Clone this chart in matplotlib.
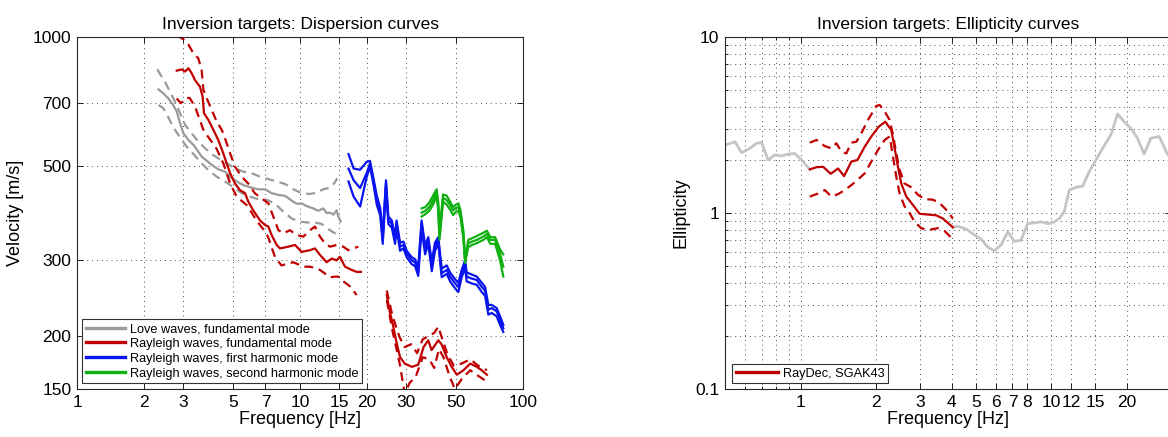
import numpy as np
import matplotlib
matplotlib.use("Agg")
import matplotlib.pyplot as plt
from matplotlib.ticker import FixedLocator, FixedFormatter, NullLocator, NullFormatter, LogLocator
from matplotlib.lines import Line2D

plt.rcParams["font.family"] = ["Liberation Sans", "DejaVu Sans"]

# ---- dispersion targets ----
# Love, fundamental mode (mean, upper, lower)
love_f = [2.32, 2.44, 2.57, 2.70, 2.80, 2.90, 3.00, 3.16, 3.33, 3.50, 3.62, 3.82, 4.02, 4.30, 4.61,
          4.86, 5.20, 5.57, 5.97, 6.51, 6.97, 7.46, 8.00, 8.56, 9.18, 9.66, 10.17, 10.71, 11.47, 12.08,
          12.72, 13.17, 13.63, 14.11, 14.60, 14.85, 15.22]
love_v = [754, 738, 718, 693, 669, 628, 595, 574, 559, 539, 525, 513, 502, 490, 484,
          471, 459, 450, 445, 440, 440, 431, 427, 425, 414, 407, 408, 402, 397, 392,
          397, 387, 388, 384, 393, 380, 370]
love_up_f = [2.29, 2.37, 2.48, 2.61, 2.75, 2.90, 3.05, 3.27, 3.50, 3.75, 4.02, 4.30, 4.69, 5.11, 5.57,
             6.07, 6.62, 7.21, 7.86, 8.56, 9.34, 10.17, 11.09, 11.88, 12.72, 13.63, 14.21, 14.70]
love_up_v = [840, 815, 786, 745, 706, 663, 623, 595, 569, 549, 532, 520, 506, 493, 484,
             480, 471, 465, 459, 453, 440, 431, 429, 432, 440, 444, 454, 467]
love_lo_f = [2.32, 2.44, 2.57, 2.70, 2.90, 3.10, 3.33, 3.56, 3.88, 4.23, 4.61, 5.02, 5.48, 5.97, 6.51,
             7.09, 7.73, 8.42, 9.18, 9.83, 10.71, 11.67, 12.51, 13.40, 14.36, 15.11]
love_lo_v = [693, 681, 648, 615, 582, 554, 532, 511, 488, 471, 459, 445, 431, 423, 417,
             416, 407, 390, 376, 370, 368, 368, 365, 355, 347, 340]

# Rayleigh, fundamental mode: low-frequency branch
ray0_f = [2.80, 2.95, 3.05, 3.16, 3.27, 3.38, 3.56, 3.66, 3.71, 3.88, 4.09, 4.30, 4.53, 4.69, 4.86,
          5.11, 5.38, 5.67, 5.86, 6.17, 6.62, 6.97, 7.21, 7.46, 7.86, 8.13, 8.87, 9.50, 10.17, 11.09,
          11.67, 12.29, 13.17, 13.87, 14.60, 15.11, 15.91, 17.04, 17.95, 18.76]
ray0_v = [834, 840, 830, 845, 822, 793, 765, 725, 663, 640, 606, 574, 534, 506, 480,
          454, 438, 431, 412, 393, 372, 363, 360, 344, 326, 320, 323, 326, 314, 317,
          320, 309, 297, 303, 300, 306, 290, 285, 282, 282]
ray0_up_f = [2.80, 3.02, 3.16, 3.33, 3.50, 3.62, 3.69, 3.82, 4.02, 4.23, 4.46, 4.61, 4.86, 5.11, 5.48,
             5.86, 6.27, 6.73, 7.21, 7.59, 8.00, 8.42, 9.01, 9.66, 10.35, 11.09, 11.67, 12.29, 12.93,
             13.63, 14.60, 15.64, 16.45, 17.35, 18.27]
ray0_up_v = [1010, 985, 960, 915, 891, 838, 752, 718, 675, 634, 606, 579, 534, 497, 471,
             454, 431, 419, 408, 380, 353, 347, 353, 344, 341, 353, 360, 341, 329,
             323, 326, 323, 317, 320, 323]
ray0_lo_f = [2.80, 2.92, 3.10, 3.20, 3.38, 3.69, 3.82, 4.23, 4.53, 4.69, 4.86, 5.20, 5.77, 6.07, 6.38,
             6.84, 7.20, 7.73, 8.26, 9.34, 10.35, 11.09, 11.88, 12.29, 13.63, 14.60, 15.11, 15.64,
             16.73, 17.95]
ray0_lo_v = [718, 700, 720, 720, 688, 606, 590, 547, 506, 480, 454, 423, 404, 388, 372,
             355, 340, 305, 292, 297, 290, 290, 287, 285, 274, 275, 274, 268,
             261, 249]

# Rayleigh, fundamental mode: high-frequency branch
ray0b_f = [24.5, 25.2, 26.2, 27.2, 28.1, 29.5, 31.8, 33.9, 35.8, 37.6, 38.9, 41.7, 43.1, 45.5, 47.9,
           50.5, 54.1, 58.0, 62.1, 65.2, 68.9]
ray0b_v = [249, 229, 210, 191, 178, 172, 169, 171, 188, 195, 185, 195, 191, 178, 169,
           162, 166, 172, 169, 166, 162]
ray0b_up_f = [24.5, 26.0, 28.0, 29.5, 31.5, 33.5, 35.5, 38.0, 40.0, 41.7, 43.5, 46.0, 49.0, 53.0, 58.0,
              63.0, 68.9]
ray0b_up_v = [255, 222, 198, 188, 191, 182, 196, 200, 203, 210, 196, 180, 170, 172, 176, 170, 166]
ray0b_lo_f = [24.5, 26.0, 28.0, 29.5, 31.0, 33.0, 35.5, 38.0, 40.0, 42.0, 44.0, 47.0, 49.5, 53.0, 58.0,
              63.0, 68.9]
ray0b_lo_v = [242, 205, 172, 146, 155, 160, 178, 176, 168, 186, 178, 160, 150, 158, 166, 161, 156]

# Rayleigh, first harmonic mode
ray1_f = [16.5, 17.4, 18.6, 19.9, 20.6, 21.3, 22.1, 22.9, 23.5, 24.3, 24.9, 25.8, 26.7, 27.1, 28.1,
          29.1, 30.1, 31.7, 32.8, 33.9, 35.1, 36.4, 37.6, 39.0, 40.3, 41.7, 43.2, 45.5, 47.1, 49.6,
          51.3, 53.1, 55.0, 55.9, 58.9, 62.0, 65.3, 67.6, 69.9, 72.4, 76.2, 78.9, 81.6]
ray1_v = [492, 462, 443, 480, 506, 463, 415, 390, 335, 454, 372, 366, 335, 366, 323,
          326, 311, 300, 297, 282, 366, 317, 335, 290, 323, 335, 280, 285, 275, 265,
          260, 280, 295, 275, 272, 270, 260, 255, 230, 232, 228, 218, 208]
ray1_up = [532, 492, 489, 510, 513, 470, 425, 398, 345, 462, 380, 372, 342, 372, 330,
           332, 316, 305, 302, 290, 372, 325, 340, 298, 330, 340, 287, 292, 281, 271,
           266, 285, 300, 281, 278, 275, 266, 260, 236, 236, 232, 222, 212]
ray1_lo = [459, 423, 401, 470, 497, 455, 405, 382, 328, 445, 365, 358, 328, 358, 316,
           320, 305, 294, 291, 276, 356, 310, 328, 283, 316, 328, 274, 279, 268, 258,
           253, 274, 288, 268, 265, 263, 253, 248, 224, 226, 222, 212, 204]

# Rayleigh, second harmonic mode
ray2_f = [35.1, 36.5, 38.0, 39.5, 41.0, 41.7, 42.2, 43.8, 45.5, 47.0, 48.6, 50.0, 51.3, 52.5, 54.1,
          55.0, 56.8, 59.0, 62.0, 64.0, 66.3, 68.9, 71.3, 75.0, 78.9, 81.6]
ray2_v = [388, 392, 400, 415, 432, 400, 340, 420, 415, 405, 393, 398, 400, 385, 341,
          300, 329, 332, 335, 338, 341, 346, 335, 335, 311, 290]
ray2_up = [397, 400, 410, 425, 440, 410, 350, 428, 425, 412, 400, 405, 408, 392, 350,
           300, 335, 338, 342, 345, 348, 352, 340, 340, 318, 310]
ray2_lo = [380, 385, 392, 405, 425, 392, 335, 412, 405, 395, 383, 390, 392, 378, 335,
           296, 322, 326, 329, 332, 335, 340, 328, 328, 300, 275]

# ---- ellipticity targets ----
ell_f = [1.089, 1.158, 1.231, 1.320, 1.412, 1.492, 1.595, 1.686, 1.803, 1.916, 2.049, 2.178,
         2.301, 2.373, 2.446, 2.522, 2.641, 2.807, 2.984, 3.220, 3.476, 3.695, 4.050]
ell_e = [1.77, 1.82, 1.83, 1.67, 1.79, 1.62, 1.96, 2.00, 2.38, 2.72, 3.09, 3.30,
         2.96, 2.33, 1.83, 1.47, 1.24, 1.11, 0.99, 0.98, 0.97, 0.93, 0.83]
ell_up_f = [1.089, 1.158, 1.249, 1.328, 1.390, 1.456, 1.523, 1.595, 1.670, 1.748, 1.858, 2.006,
            2.068, 2.165, 2.267, 2.337, 2.409, 2.484, 2.600, 2.764, 2.938, 3.123, 3.372, 3.584,
            3.869, 4.050]
ell_up_e = [2.51, 2.60, 2.40, 2.33, 2.49, 2.23, 2.18, 2.51, 2.54, 2.84, 3.38, 4.06,
            4.11, 3.77, 3.38, 2.78, 2.18, 1.76, 1.47, 1.40, 1.27, 1.20, 1.19, 1.14,
            1.02, 0.93]
ell_lo_f = [1.089, 1.175, 1.249, 1.328, 1.412, 1.501, 1.595, 1.696, 1.803, 1.916, 2.037, 2.165,
            2.267, 2.337, 2.409, 2.484, 2.600, 2.722, 2.850, 3.030, 3.220, 3.529, 3.752, 4.050]
ell_lo_e = [1.24, 1.29, 1.35, 1.24, 1.28, 1.35, 1.44, 1.55, 1.68, 1.96, 2.28, 2.60,
            2.72, 2.09, 1.61, 1.29, 1.09, 1.00, 0.89, 0.82, 0.80, 0.82, 0.79, 0.71]

# full-band ellipticity shown in light grey outside the target band
bg_lo_f = [0.50, 0.548, 0.582, 0.628, 0.668, 0.699, 0.743, 0.790, 0.840, 0.893, 0.949, 1.009, 1.089]
bg_lo_e = [2.43, 2.54, 2.20, 2.33, 2.49, 2.52, 2.00, 2.14, 2.11, 2.16, 2.18, 2.00, 1.77]
bg_hi_f = [4.05, 4.24, 4.58, 4.94, 5.25, 5.58, 5.93, 6.31, 6.70, 7.13, 7.57, 8.05, 9.10, 9.67,
           10.28, 10.76, 11.26, 11.79, 12.54, 13.33, 14.17, 15.06, 16.01, 17.28, 18.37, 19.52,
           20.75, 22.06, 23.44, 24.93, 26.91, 28.96, 30.0]
bg_hi_e = [0.83, 0.84, 0.81, 0.75, 0.71, 0.64, 0.61, 0.66, 0.78, 0.69, 0.70, 0.87, 0.89, 0.87,
           0.89, 0.93, 1.02, 1.35, 1.40, 1.42, 1.72, 2.00, 2.33, 2.78, 3.65, 3.30,
           3.03, 2.66, 2.16, 2.66, 2.72, 2.18, 2.05]

legend_labels = ["Love waves, fundamental mode", "Rayleigh waves, fundamental mode",
                 "Rayleigh waves, first harmonic mode", "Rayleigh waves, second harmonic mode"]

GREY = "#9a9a9a"
LIGHT = "#c4c4c4"
RED = "#c00000"
BLUE = "#0a14ee"
GREEN = "#10b010"
LW = 1.6
DASH = (0, (4, 2.6))
GRID = dict(linestyle=(0, (1, 4)), color="0.3", linewidth=0.7)

fig = plt.figure(figsize=(11.68, 4.37), dpi=100)
ax1 = fig.add_axes([77 / 1168, 48 / 437, 446 / 1168, 352 / 437])
ax2 = fig.add_axes([725 / 1168, 48 / 437, 446 / 1168, 352 / 437])

# dispersion curves
ax1.plot(love_up_f, love_up_v, color=GREY, lw=LW, ls=DASH)
ax1.plot(love_lo_f, love_lo_v, color=GREY, lw=LW, ls=DASH)
ax1.plot(love_f, love_v, color=GREY, lw=LW)
for f, v in [(ray0_up_f, ray0_up_v), (ray0_lo_f, ray0_lo_v), (ray0b_up_f, ray0b_up_v), (ray0b_lo_f, ray0b_lo_v)]:
    ax1.plot(f, v, color=RED, lw=LW, ls=DASH)
ax1.plot(ray0_f, ray0_v, color=RED, lw=LW)
ax1.plot(ray0b_f, ray0b_v, color=RED, lw=LW)
for v in (ray1_up, ray1_lo, ray1_v):
    ax1.plot(ray1_f, v, color=BLUE, lw=LW)
for v in (ray2_up, ray2_lo, ray2_v):
    ax1.plot(ray2_f, v, color=GREEN, lw=LW)

ax1.set_xscale("log")
ax1.set_yscale("log")
ax1.set_xlim(1, 100)
ax1.set_ylim(150, 1000)
xt = [1, 2, 3, 5, 7, 10, 15, 20, 30, 50, 100]
yt = [150, 200, 300, 500, 700, 1000]
ax1.xaxis.set_major_locator(FixedLocator(xt))
ax1.xaxis.set_major_formatter(FixedFormatter([str(t) for t in xt]))
ax1.yaxis.set_major_locator(FixedLocator(yt))
ax1.yaxis.set_major_formatter(FixedFormatter([str(t) for t in yt]))
ax1.xaxis.set_minor_locator(NullLocator())
ax1.yaxis.set_minor_locator(NullLocator())
ax1.grid(True, which="major", **GRID)
ax1.set_title("Inversion targets: Dispersion curves", fontsize=12.5, pad=6)
ax1.set_xlabel("Frequency [Hz]", fontsize=13, labelpad=1)
ax1.set_ylabel("Velocity [m/s]", fontsize=13, labelpad=6)

handles = [Line2D([], [], color=c, lw=2.4) for c in (GREY, RED, BLUE, GREEN)]
leg = ax1.legend(handles, legend_labels, loc="lower left", bbox_to_anchor=(0.012, 0.016),
                 borderaxespad=0, fontsize=9.2, handlelength=3.0, handletextpad=0.4,
                 labelspacing=0.22, borderpad=0.3, fancybox=False, framealpha=1,
                 edgecolor="0.2")
leg.get_frame().set_linewidth(0.8)

# ellipticity curves
ax2.plot(bg_lo_f, bg_lo_e, color=LIGHT, lw=2.0)
ax2.plot(bg_hi_f, bg_hi_e, color=LIGHT, lw=2.0)
ax2.plot(ell_up_f, ell_up_e, color=RED, lw=LW, ls=DASH)
ax2.plot(ell_lo_f, ell_lo_e, color=RED, lw=LW, ls=DASH)
ax2.plot(ell_f, ell_e, color=RED, lw=LW, label="RayDec, SGAK43")

ax2.set_xscale("log")
ax2.set_yscale("log")
ax2.set_xlim(0.5, 30)
ax2.set_ylim(0.1, 10)
xt2 = [1, 2, 3, 4, 5, 6, 7, 8, 10, 12, 15, 20]
ax2.xaxis.set_major_locator(FixedLocator(xt2))
ax2.xaxis.set_major_formatter(FixedFormatter([str(t) for t in xt2]))
ax2.xaxis.set_minor_locator(FixedLocator([0.6, 0.7, 0.8, 0.9]))
ax2.xaxis.set_minor_formatter(NullFormatter())
ax2.yaxis.set_major_locator(FixedLocator([0.1, 1, 10]))
ax2.yaxis.set_major_formatter(FixedFormatter(["0.1", "1", "10"]))
ax2.yaxis.set_minor_locator(LogLocator(base=10, subs=np.arange(2, 10)))
ax2.yaxis.set_minor_formatter(NullFormatter())
ax2.grid(True, which="both", **GRID)
ax2.set_title("Inversion targets: Ellipticity curves", fontsize=12.5, pad=6)
ax2.set_xlabel("Frequency [Hz]", fontsize=13, labelpad=1)
ax2.set_ylabel("Ellipticity", fontsize=13, labelpad=4)

leg2 = ax2.legend(loc="lower left", bbox_to_anchor=(0.016, 0.016), borderaxespad=0,
                  fontsize=9.2, handlelength=3.3, handletextpad=0.35, borderpad=0.3,
                  fancybox=False, framealpha=1, edgecolor="0.2")
leg2.get_frame().set_linewidth(0.8)
leg2.get_lines()[0].set_linewidth(2.4)

for ax in (ax1, ax2):
    ax.tick_params(which="both", direction="in", top=True, right=True, length=4, width=0.6,
                   labelsize=12.5, pad=4)
    ax.tick_params(which="minor", length=2.5)
    for s in ax.spines.values():
        s.set_linewidth(0.8)
        s.set_color("0.15")

fig.savefig("out.png", dpi=100)
